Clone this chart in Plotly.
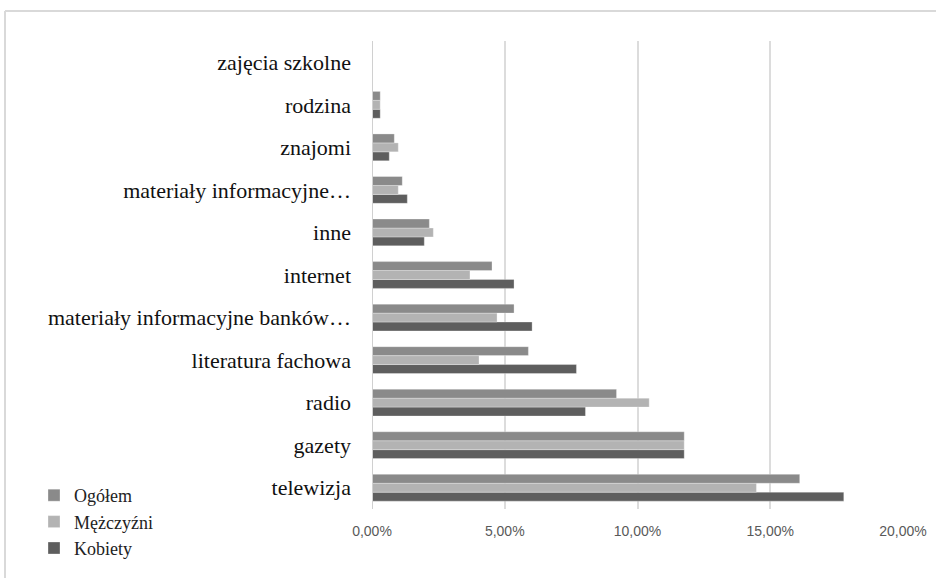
import plotly.graph_objects as go

# Source of financial information, share of respondents
categories = [
    "telewizja",
    "gazety",
    "radio",
    "literatura fachowa",
    "materiały informacyjne banków…",
    "internet",
    "inne",
    "materiały informacyjne…",
    "znajomi",
    "rodzina",
    "zajęcia szkolne",
]
ogolem = [0.1611, 0.1176, 0.0921, 0.0589, 0.0535, 0.0452, 0.0216, 0.0114, 0.0084, 0.0031, 0.0]
mezczyzni = [0.1448, 0.1176, 0.1044, 0.0403, 0.0471, 0.0369, 0.0231, 0.0099, 0.0099, 0.0031, 0.0]
kobiety = [0.1777, 0.1176, 0.0804, 0.0770, 0.0603, 0.0535, 0.0197, 0.0133, 0.0065, 0.0031, 0.0]

series = [
    ("Kobiety", kobiety, "#5e5e5e"),
    ("Mężczyźni", mezczyzni, "#b3b3b3"),
    ("Ogółem", ogolem, "#8a8a8a"),
]

fig = go.Figure()
for name, vals, color in series:
    fig.add_trace(go.Bar(
        y=categories, x=vals, name=name, orientation="h",
        marker=dict(color=color, line=dict(color="rgba(255,255,255,0.6)", width=0.5)),
    ))

W, H = 936, 578
ML, MR, MT, MB = 372, 33, 41, 69
pw, ph = W - ML - MR, H - MT - MB


def px_x(x):
    return (x - ML) / pw


def px_y(y):
    return (H - MB - y) / ph


serif = "Liberation Serif, Times New Roman, serif"

fig.update_layout(
    template="none",
    width=W, height=H,
    margin=dict(l=ML, r=MR, t=MT, b=MB, pad=0),
    paper_bgcolor="white", plot_bgcolor="white",
    barmode="group", bargap=0.37, bargroupgap=0,
    separators=", ",
    showlegend=True,
    legend=dict(
        xref="container", yref="container",
        x=34 / W, y=1 - 477 / H, xanchor="left", yanchor="top",
        traceorder="reversed",
        font=dict(family=serif, size=18, color="#222222"),
        bgcolor="rgba(0,0,0,0)", itemwidth=30, tracegroupgap=0,
        borderwidth=0,
    ),
    xaxis=dict(
        automargin=False,
        range=[0, 0.2], dtick=0.05, tickformat=".2%",
        showgrid=True, gridcolor="#dcdcdc", gridwidth=2,
        zeroline=False, showline=False,
        tickfont=dict(family="Liberation Sans, Arial, sans-serif", size=14, color="#595959"),
        ticks="", ticklabelstandoff=12,
    ),
    yaxis=dict(
        automargin=False,
        categoryorder="array", categoryarray=categories,
        showgrid=False, zeroline=False,
        showline=False,
        tickfont=dict(family=serif, size=22, color="#111111"),
        ticks="", ticklabelstandoff=20,
    ),
    shapes=[
        # vertical axis line at 0
        dict(type="line", xref="x", yref="paper", x0=0, x1=0, y0=0, y1=1,
             line=dict(color="#d0d0d0", width=2)),
        # outer chart frame (top and left edges)
        dict(type="line", xref="paper", yref="paper",
             x0=px_x(5), x1=px_x(940), y0=px_y(11), y1=px_y(11),
             line=dict(color="#d9d9d9", width=2)),
        dict(type="line", xref="paper", yref="paper",
             x0=px_x(5), x1=px_x(5), y0=px_y(11), y1=px_y(582),
             line=dict(color="#d9d9d9", width=2)),
    ],
)

fig.write_html("out.html")
